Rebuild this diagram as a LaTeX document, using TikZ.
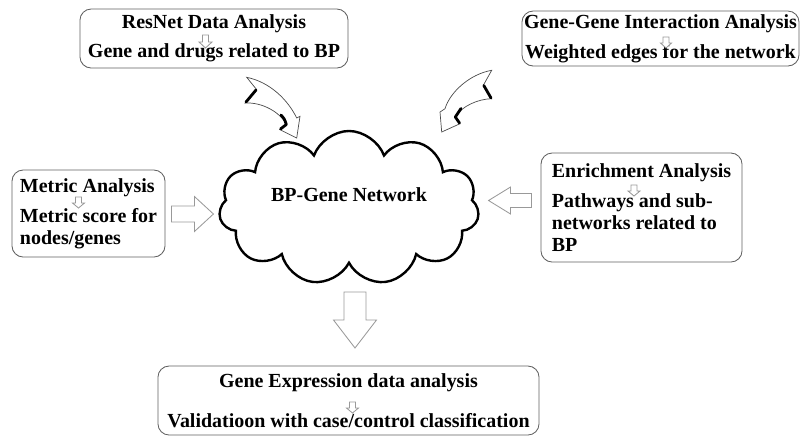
\documentclass[tikz,border=0pt]{standalone}
\usepackage{fontspec}
\setmainfont{Liberation Serif}
\usetikzlibrary{shapes.symbols}
\usetikzlibrary{calc}
\newcommand{\blockArrow}[6]{%
  % #1 tail, #2 direction, #3 length, #4 head length, #5 shaft, #6 head width
  \draw[arrowStyle, shift={#1}, rotate=#2]
    (0,#5/2) -- (#3-#4,#5/2) -- (#3-#4,#6/2) -- (#3,0)
    -- (#3-#4,-#6/2) -- (#3-#4,-#5/2) -- (0,-#5/2) -- cycle;
}

\begin{document}
\begin{tikzpicture}[%
  x=0.025cm,y=0.025cm,%
  boxStyle/.style={draw=gray!75!black,line width=0.6pt,rounded corners=0.28cm,%
    inner sep=0pt,font=\fontsize{14.2}{15.6}\selectfont\bfseries},%
  arrowStyle/.style={draw=gray!80,line width=0.6pt,fill=white,line join=miter},%
  curveStyle/.style={draw=gray!60!black,line width=0.5pt,fill=white},%
  shadeStyle/.style={line width=2pt,line cap=round,line join=round},%
  cloudStyle/.style={cloud,cloud puffs=11,cloud puff arc=140,cloud ignores aspect,%
    draw,line width=1.7pt,minimum width=6.5cm,minimum height=3.85cm}%
]
%
\useasboundingbox (0,0) rectangle (803,-437);
%
% The boxes round the network.
\node[boxStyle,align=center,minimum width=6.7cm,minimum height=1.475cm]
  (resnet) at (214,-38.5)
  {ResNet Data Analysis\\[5pt]Gene and drugs related to BP};
\node[boxStyle,align=center,minimum width=6.925cm,minimum height=1.375cm]
  (geneGene) at (660.5,-38.5)
  {Gene-Gene Interaction Analysis\\[5.5pt]Weighted edges for the network};
\node[boxStyle,align=left,minimum width=3.825cm,minimum height=2.175cm]
  (metric) at (88.5,-213.5)
  {Metric Analysis\\[6pt]Metric score for\\nodes/genes};
\node[boxStyle,align=left,minimum width=5.025cm,minimum height=2.725cm]
  (enrich) at (641.5,-207.5)
  {Enrichment Analysis\\[6pt]Pathways and sub-\\networks related to\\BP};
\node[boxStyle,align=center,minimum width=9.525cm,minimum height=1.725cm]
  (expr) at (348.5,-400.5)
  {Gene Expression data analysis\\[13pt]Validatioon with case/control classification};
%
% The network in the middle.
\node[cloudStyle] (net) at (349,-208) {};
\node[font=\fontsize{14.2}{15.6}\selectfont\bfseries] (netLabel) at (349,-195)
  {BP-Gene Network};
%
% Small arrows inside the boxes.
\blockArrow{($(resnet.center)+(-8.5,3.5)$)}{-90}{13}{6}{6}{13}
\blockArrow{($(geneGene.center)+(5.5,1.5)$)}{-90}{11}{5}{6}{11}
\blockArrow{($(metric.center)+(-10,16.5)$)}{-90}{11}{5}{6}{12}
\blockArrow{($(enrich.center)+(-7.5,22.5)$)}{-90}{11}{5}{6}{12}
\blockArrow{($(expr.center)+(4,-1.5)$)}{-90}{11}{5}{6}{12}
%
% Block arrows towards the network and out of it.
\blockArrow{($(metric.east)+(6,-0.5)$)}{0}{42}{19}{16}{35}
\blockArrow{($(enrich.west)+(-9,7)$)}{180}{43}{22}{14}{27}
\blockArrow{($(net.center)+(6,-84)$)}{-90}{56}{28}{22}{43}
%
% Curved arrows from the top boxes.
\draw[curveStyle] (246.7,-77.3) -- (256.7,-89.7) -- (245,-103)
  .. controls (262,-102) and (280,-112) .. (286.7,-124.7)
  -- (280,-129.7) -- (296.7,-138) -- (300,-116.3) -- (296.7,-118)
  .. controls (288,-100) and (270,-82) .. (246.7,-77.3) -- cycle;
\draw[shadeStyle] (256,-90) -- (246,-102);
\draw[shadeStyle] (281,-115) .. controls (284.5,-119) .. (286.3,-124.5) -- (280.5,-129);
\draw[curveStyle] (491.7,-70.3) -- (483.3,-85.3) -- (491.7,-98.7)
  .. controls (478,-99) and (462,-106) .. (455,-117)
  -- (460,-123.7) -- (441.7,-132) -- (440,-112) -- (445,-108.7)
  .. controls (450,-92) and (470,-74) .. (491.7,-70.3) -- cycle;
\draw[shadeStyle] (483.8,-85.5) -- (491,-98);
\draw[shadeStyle] (461,-108.5) .. controls (457.5,-112) .. (455.3,-117) -- (459.5,-123);
\end{tikzpicture}
\end{document}
